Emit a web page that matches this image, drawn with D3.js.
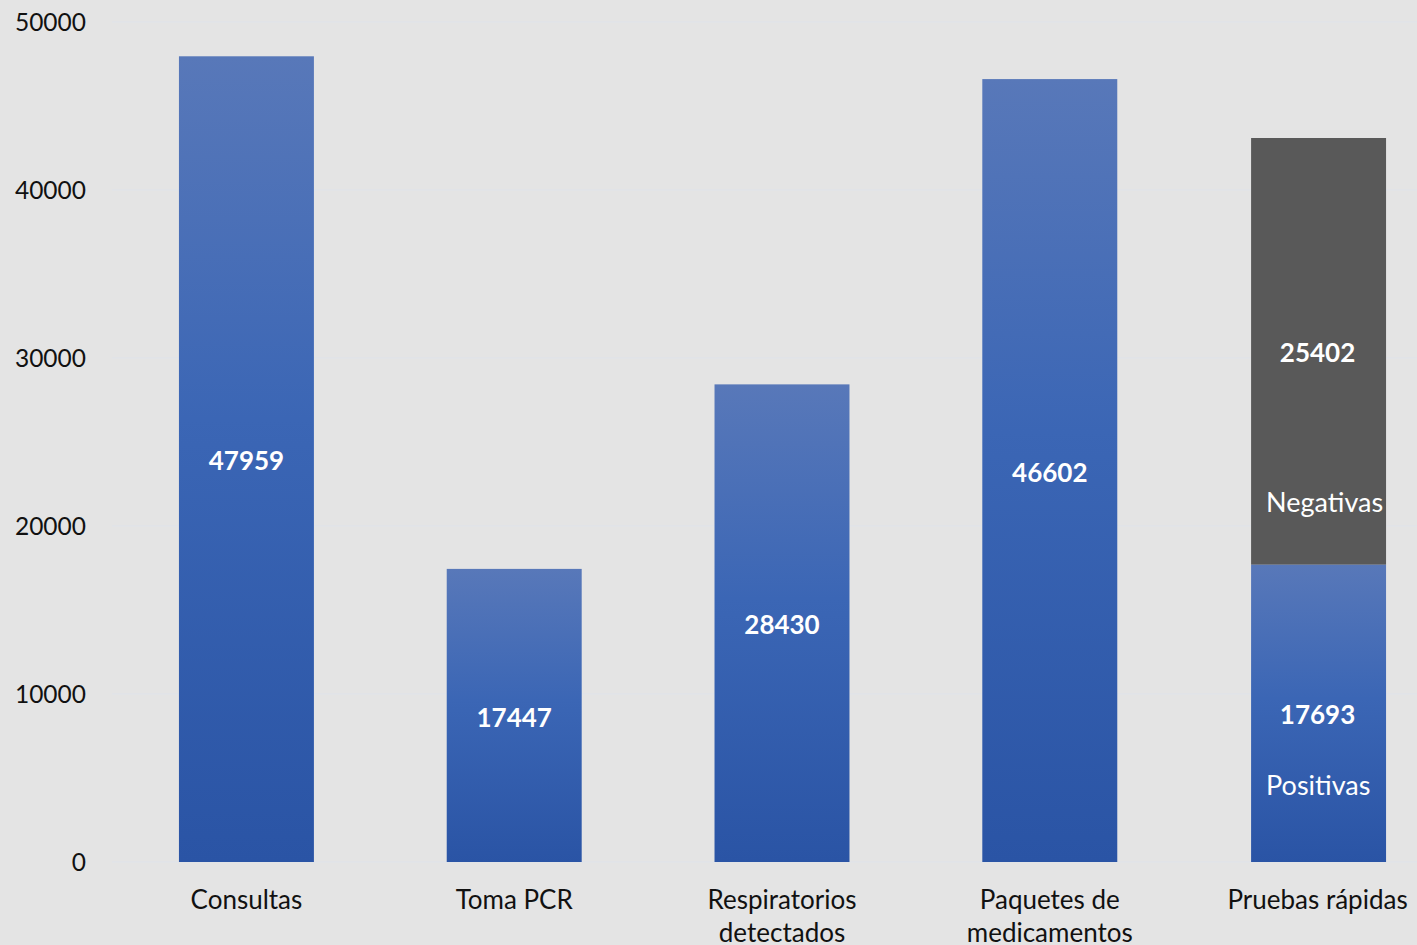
<!DOCTYPE html>
<html><head><meta charset="utf-8">
<script src="https://cdn.jsdelivr.net/npm/d3@7"></script>
<style>html,body{margin:0;padding:0;background:#e4e4e4;overflow:hidden}</style>
</head><body>
<svg id="c" width="1417" height="945"></svg>
<script>
const categories = ["Consultas","Toma PCR","Respiratorios detectados","Paquetes de medicamentos","Pruebas rápidas"];
const categoryLines = [["Consultas"],["Toma PCR"],["Respiratorios","detectados"],["Paquetes de","medicamentos"],["Pruebas rápidas"]];
const blueValues = [47959,17447,28430,46602,17693];
const grayValues = [0,0,0,0,25402];
const segmentNotes = {blue:[null,null,null,null,"Positivas"], gray:[null,null,null,null,"Negativas"]};
const yTicks = [0,10000,20000,30000,40000,50000];

const W=1417,H=945;
const svg=d3.select("#c");
const font="Lato, 'Open Sans', sans-serif";
svg.append("rect").attr("width",W).attr("height",H).attr("fill","#e4e4e4");

const y=d3.scaleLinear().domain([0,50000]).range([862,22]);
const x=d3.scaleBand().domain(categories).range([112,1452]).paddingInner(0.496).paddingOuter(0.25);

const defs=svg.append("defs");
const g=defs.append("linearGradient").attr("id","blueGrad").attr("x1",0).attr("y1",0).attr("x2",0).attr("y2",1);
g.append("stop").attr("offset","0%").attr("stop-color","#5878b9");
g.append("stop").attr("offset","45%").attr("stop-color","#3b66b5");
g.append("stop").attr("offset","100%").attr("stop-color","#2a54a5");

// gridlines
svg.append("g").selectAll("line").data(yTicks).join("line")
  .attr("x1",112).attr("x2",W).attr("y1",d=>y(d)).attr("y2",d=>y(d))
  .attr("stroke","#dfe3ea").attr("stroke-width",1);

// y axis
const ya=svg.append("g").attr("transform","translate(86,1)")
  .call(d3.axisLeft(y).tickValues(yTicks).tickFormat(d3.format("d")).tickSize(0).tickPadding(0));
ya.select(".domain").remove();
ya.selectAll("text").attr("font-family",font).attr("font-size",24.5).attr("fill","#111");

const stacked=categories.map((c,i)=>({c,i,b:blueValues[i],gr:grayValues[i]}));

// gray segments
svg.append("g").selectAll("rect").data(stacked.filter(d=>d.gr>0)).join("rect")
  .attr("x",d=>x(d.c)+1).attr("width",x.bandwidth())
  .attr("y",d=>y(d.b+d.gr)).attr("height",d=>y(d.b)-y(d.b+d.gr))
  .attr("fill","#595959");
// blue segments
svg.append("g").selectAll("rect").data(stacked).join("rect")
  .attr("x",d=>x(d.c)+(d.i===4?1:0)).attr("width",x.bandwidth())
  .attr("y",d=>y(d.b)).attr("height",d=>y(0)-y(d.b))
  .attr("fill","url(#blueGrad)");

// value labels
const lab=svg.append("g").attr("font-family",font).attr("font-weight","bold").attr("font-size",26).attr("fill","#fff").attr("text-anchor","middle");
lab.selectAll("text.b").data(stacked).join("text").attr("class","b")
  .attr("x",d=>x(d.c)+x.bandwidth()/2).attr("y",d=>(y(0)+y(d.b))/2+2).attr("dy","0.35em")
  .text(d=>d.b);
lab.selectAll("text.g").data(stacked.filter(d=>d.gr>0)).join("text").attr("class","g")
  .attr("x",d=>x(d.c)+x.bandwidth()/2).attr("y",d=>(y(d.b)+y(d.b+d.gr))/2+2).attr("dy","0.35em")
  .text(d=>d.gr);

// notes
const notes=svg.append("g").attr("font-family",font).attr("font-size",27).attr("fill","#fff");
stacked.forEach(d=>{
  if(segmentNotes.gray[d.i]) notes.append("text").attr("x",x(d.c)+16).attr("y",y(d.b)-62).attr("dy","0.35em").text(segmentNotes.gray[d.i]);
  if(segmentNotes.blue[d.i]) notes.append("text").attr("x",x(d.c)+16).attr("y",y(0)-76).attr("dy","0.35em").text(segmentNotes.blue[d.i]);
});

// category labels
const cl=svg.append("g").attr("font-family",font).attr("font-size",26).attr("fill","#111").attr("text-anchor","middle");
categories.forEach((c,i)=>{
  categoryLines[i].forEach((ln,j)=>{
    cl.append("text").attr("x",x(c)+x.bandwidth()/2).attr("y",900+j*33).attr("dy","0.35em").text(ln);
  });
});
</script>
</body></html>
